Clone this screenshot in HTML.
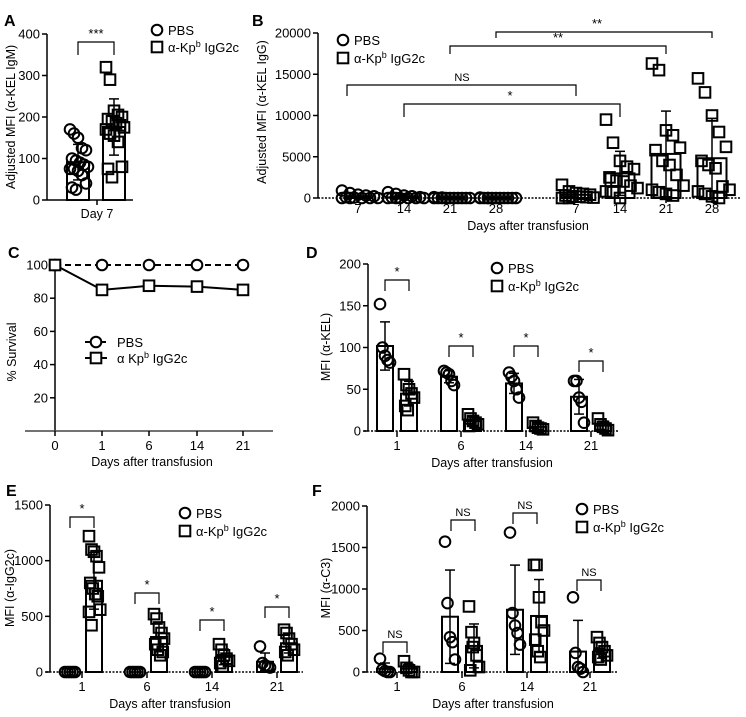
<!DOCTYPE html>
<html><head><meta charset="utf-8">
<style>
html,body{margin:0;padding:0;background:#fff;}
svg{display:block;font-family:"Liberation Sans",Arial,sans-serif;}
</style></head>
<body>
<svg id="fig" width="746" height="717" viewBox="0 0 746 717"></svg>
<script>
// ---------- DATA ----------
const aCats = ["Day 7"];
const aPBS = [170,160,150,125,120,100,95,90,85,80,75,75,70,60,40,30,25];
const aKp = [320,290,215,205,200,195,190,185,180,175,170,160,155,140,80,75,55];
const aTicks = [0,100,200,300,400];

const bCats = ["7","14","21","28","7","14","21","28"];
const bPBS7 = [900,600,400,300,200,100,50,0,0,0,0,0];
const bPBS14 = [700,500,300,200,100,50,0,0,0,0,0,0];
const bPBS21 = [100,50,0,0,0,0,0,0,0,0,0,0];
const bPBS28 = [50,0,0,0,0,0,0,0,0,0,0,0];
const bKp7 = [1600,800,600,500,400,300,200,150,100,50,0,0];
const bKp14 = [9500,6700,4500,3800,3500,2500,2100,2000,1500,1200,800,700,0];
const bKp21 = [16300,15500,8200,7600,6100,5800,4500,4000,2800,1500,1000,700,500,300];
const bKp28 = [14500,12800,10000,8000,6200,4500,4000,3600,1400,1000,800,500,200,0];
const bTicks = [0,5000,10000,15000,20000];

const cCats = ["0","1","6","14","21"];
const cPBS = [100,100,100,100,100];
const cKp = [100,85,87.5,87,85];
const cTicks = [20,40,60,80,100];

const dCats = ["1","6","14","21"];
const dPBS = [[152,100,90,85,82],[72,70,68,60,55],[70,65,60,50,40],[60,60,40,35,10]];
const dKp = [[68,55,50,45,40,30,25],[20,15,12,10,8,6],[10,6,4,3,2],[15,8,5,3,1]];
const dTicks = [0,50,100,150,200];

const eCats = ["1","6","14","21"];
const ePBS = [[0,0,0,0,0],[0,0,0,0,0],[0,0,0,0,0],[230,80,60,50,40]];
const eKp = [[1220,1100,1080,1040,940,800,750,700,680,560,540,420],[520,480,400,350,300,250,200,150,180],[250,200,150,120,100,80,50],[380,350,300,250,200,180,150]];
const eTicks = [0,500,1000,1500];

const fCats = ["1","6","14","21"];
const fPBS = [[160,30,10,0,0],[1570,830,420,360,150],[1680,710,560,470,330],[900,230,60,40,0]];
const fKp = [[130,50,20,0,0],[790,480,350,200,60,20,300],[1290,1290,900,600,500,390,250,180],[420,350,300,250,200,180,150]];
const fTicks = [0,500,1000,1500,2000];

// ---------- HELPERS ----------
const NS = "http://www.w3.org/2000/svg";
const svg = document.getElementById('fig');
function mk(tag, attrs, parent){
  const e = document.createElementNS(NS, tag);
  for (const k in attrs) e.setAttribute(k, attrs[k]);
  (parent || svg).appendChild(e);
  return e;
}
function ln(x1,y1,x2,y2,name,extra){
  const a = Object.assign({x1:x1,y1:y1,x2:x2,y2:y2,stroke:"#000","stroke-width":1.5}, extra||{});
  const el = mk('line', a);
  
  
  return el;
}
function tx(x,y,s,name,extra){
  const a = Object.assign({x:x,y:y,"font-size":13,fill:"#000"}, extra||{});
  const el = mk('text', a);
  el.textContent = s;
  
  
  return el;
}
function mean(v){ return v.reduce((a,b)=>a+b,0)/v.length; }
function sd(v){ const m=mean(v); return Math.sqrt(v.reduce((a,b)=>a+(b-m)*(b-m),0)/(v.length-1)); }
function marker(shape,x,y,name){
  let el;
  if (shape==='c') el = mk('circle',{cx:x,cy:y,r:5.3,fill:"none",stroke:"#000","stroke-width":2});
  else el = mk('rect',{x:x-5.3,y:y-5.3,width:10.6,height:10.6,fill:"none",stroke:"#000","stroke-width":2});
  
  
  return el;
}
function yAxis(ax, ys, ticks, labels, yTopPx, yBotPx, name){
  ln(ax, yTopPx, ax, yBotPx, name+'-y-axis');
  ticks.forEach((t,i)=>{
    ln(ax-5, ys(t), ax, ys(t), name+'-y-tick');
    tx(ax-7, ys(t)+4.5, labels[i], name+'-y-tick-label', {"text-anchor":"end"});
  });
}
function ytitle(x,y,s,name){
  return tx(x,y,s,name,{"font-size":12.5,"text-anchor":"middle",transform:"rotate(-90 "+x+" "+y+")"});
}
function barGroup(shape, cx, w, vals, ys, name, spread){
  const m = mean(vals), s = sd(vals);
  const r = mk('rect',{x:cx-w/2,y:ys(m),width:w,height:ys(0)-ys(m),fill:"#fff",stroke:"#000","stroke-width":2});
  
  
  vals.forEach((v,k)=>{
    const off = ((k%5)-2)*spread/2 + ((Math.floor(k/5)%2)?spread/4:0);
    marker(shape, cx+off, ys(v), name+'-point');
  });
  ln(cx, ys(m+s), cx, ys(Math.max(0,m-s)), name+'-error-bar');
  ln(cx-5, ys(m+s), cx+5, ys(m+s), name+'-error-cap');
  if (m-s>0) ln(cx-5, ys(m-s), cx+5, ys(m-s), name+'-error-cap-low');
}
function bracket(x1,x2,y,leg,label,name,lx){
  const p = mk('path',{d:"M"+x1+" "+(y+leg)+" V"+y+" H"+x2+" V"+(y+leg),fill:"none",stroke:"#000","stroke-width":1.2});
  
  
  tx(lx!==undefined?lx:(x1+x2)/2, y-4, label, name+'-label', {"text-anchor":"middle","font-size":label==='NS'?11:13});
}
function legend(x,y,gap,name){
  marker('c', x, y, name+'-legend-pbs-marker');
  tx(x+11, y+5, "PBS", name+'-legend-pbs', {"font-size":13});
  marker('s', x, y+gap, name+'-legend-kp-marker');
  const t = tx(x+11, y+gap+5, "α-Kp", name+'-legend-kp', {"font-size":13});
  const sup = mk('tspan',{dy:-5,"font-size":9}, t); sup.textContent='b';
  const rest = mk('tspan',{dy:5}, t); rest.textContent=' IgG2c';
}
function letter(x,y,s){ tx(x,y,s,'panel-label-'+s,{"font-size":16,"font-weight":"bold"}); }

// ---------- PANEL A ----------
(function(){
  const ax=47, y0=200, yT=34;
  const ys = v => y0 - (v/400)*(y0-yT);
  letter(4,26,'A');
  yAxis(ax, ys, aTicks, aTicks.map(String), yT, y0, 'a');
  ln(ax, y0, 133, y0, 'a-x-axis');
  ln(97, y0, 97, y0+5, 'a-x-tick');
  tx(97, 218, aCats[0], 'a-x-label', {"text-anchor":"middle","font-size":12.5});
  ytitle(15, 117, "Adjusted MFI (α-KEL IgM)", 'a-y-title');
  barGroup('c', 78, 22, aPBS, ys, 'a-pbs', 8);
  barGroup('s', 114, 22, aKp, ys, 'a-kp', 8);
  bracket(78,114,42,13,"***",'a-sig');
  legend(157,30,17,'a');
})();

// ---------- PANEL B ----------
(function(){
  const ax=318, y0=198, yT=33;
  const ys = v => y0 - (v/20000)*(y0-yT);
  const xB = i => 358 + i*46 + (i>=4?34:0) - (i>=5?2:0);
  letter(252,26,'B');
  yAxis(ax, ys, bTicks, bTicks.map(String), yT, y0, 'b');
  ln(ax, y0, 740, y0, 'b-x-axis', {"stroke-dasharray":"2,1.5"});
  bCats.forEach((c,i)=>{
    ln(xB(i), y0, xB(i), y0+5, 'b-x-tick');
    tx(xB(i), 213, c, 'b-x-label', {"text-anchor":"middle"});
  });
  tx(528, 230, "Days after transfusion", 'b-x-title', {"text-anchor":"middle","font-size":12.5});
  ytitle(266, 112, "Adjusted MFI (α-KEL IgG)", 'b-y-title');
  [bPBS7,bPBS14,bPBS21,bPBS28].forEach((v,i)=>barGroup('c', xB(i), 26, v, ys, 'b-pbs-'+bCats[i], 16));
  [bKp7,bKp14,bKp21,bKp28].forEach((v,i)=>barGroup('s', xB(i+4), 29, v, ys, 'b-kp-'+bCats[i], 14));
  bracket(347,576,85,11,"NS",'b-sig-ns', 462);
  bracket(404,620,104,13,"*",'b-sig-14', 510);
  bracket(450,666,46,8,"**",'b-sig-21', 558);
  bracket(496,712,32,6,"**",'b-sig-28', 597);
  legend(343,40,18,'b');
})();

// ---------- PANEL C ----------
(function(){
  const ax=55, y0=431, yT=265;
  const ys = v => y0 - (v/100)*(y0-yT);
  const xs = i => [55,102,149,197,243][i];
  letter(8,258,'C');
  ln(ax, yT, ax, y0, 'c-y-axis');
  cTicks.forEach(t=>{ ln(ax-5, ys(t), ax, ys(t), 'c-y-tick'); tx(ax-7, ys(t)+4.5, String(t), 'c-y-tick-label', {"text-anchor":"end"}); });
  ln(25, y0, 273, y0, 'c-x-axis', {stroke:"#444"});
  cCats.forEach((c,i)=>{ ln(xs(i), y0, xs(i), y0+5, 'c-x-tick'); tx(xs(i), 450, c, 'c-x-label', {"text-anchor":"middle"}); });
  tx(152, 466, "Days after transfusion", 'c-x-title', {"text-anchor":"middle","font-size":12.5});
  ytitle(16, 352, "% Survival", 'c-y-title');
  const pp = mk('polyline',{points:cPBS.map((v,i)=>xs(i)+","+ys(v)).join(" "),fill:"none",stroke:"#000","stroke-width":2,"stroke-dasharray":"6,4"});
  
  
  const kp = mk('polyline',{points:cKp.map((v,i)=>xs(i)+","+ys(v)).join(" "),fill:"none",stroke:"#000","stroke-width":2});
  
  
  cPBS.forEach((v,i)=>{ const m=marker('c', xs(i), ys(v), 'c-pbs-point'); m.setAttribute('fill','#fff'); });
  cKp.forEach((v,i)=>{ const m=marker('s', xs(i), ys(v), 'c-kp-point'); m.setAttribute('fill','#fff'); });
  ln(85,342,107,342,'c-legend-pbs-line',{"stroke-dasharray":"5,3","stroke-width":2});
  marker('c',96,342,'c-legend-pbs-marker').setAttribute('fill','#fff');
  tx(117,347,"PBS",'c-legend-pbs');
  ln(85,358,107,358,'c-legend-kp-line',{"stroke-width":2});
  marker('s',96,358,'c-legend-kp-marker').setAttribute('fill','#fff');
  const t = tx(117,363,"α Kp",'c-legend-kp');
  const sup = mk('tspan',{dy:-5,"font-size":9},t); sup.textContent='b';
  const rest = mk('tspan',{dy:5},t); rest.textContent=' IgG2c';
})();

// ---------- grouped bar panels D/E/F ----------
function groupedPanel(o){
  const ys = v => o.y0 - (v/o.max)*(o.y0-o.yT);
  letter(o.lx, o.ly, o.letter);
  yAxis(o.ax, ys, o.ticks, o.ticks.map(String), o.yT, o.y0, o.n);
  ln(o.ax-4, o.y0, o.xEnd, o.y0, o.n+'-x-axis', {"stroke-dasharray":"2,1.5"});
  o.cats.forEach((c,i)=>{
    const x = o.tx[i];
    ln(x, o.y0, x, o.y0+6, o.n+'-x-tick');
    tx(x, o.y0+19, c, o.n+'-x-label', {"text-anchor":"middle"});
    barGroup('c', x-12, 16, o.pbs[i], ys, o.n+'-pbs-'+c, 5);
    barGroup('s', x+12, 16, o.kp[i], ys, o.n+'-kp-'+c, 5);
    const b = o.br[i];
    bracket(x-12+b[1], x+12+b[1], b[0], 11, o.sig[i], o.n+'-sig-'+c);
  });
  tx(o.titleX, o.y0+36, "Days after transfusion", o.n+'-x-title', {"text-anchor":"middle","font-size":12.5});
  ytitle(o.ytx, o.yty, o.ytitle, o.n+'-y-title');
  legend(o.legX, o.legY, 18, o.n);
}
groupedPanel({n:'d',letter:'D',lx:306,ly:258,ax:368,y0:431,yT:264,max:200,ticks:dTicks,xEnd:618,
  cats:dCats,tx:[397,461,526,591],pbs:dPBS,kp:dKp,
  br:[[280,0],[346,0],[346,0],[361,0]],sig:["*","*","*","*"],
  titleX:492,ytx:330,yty:347,ytitle:"MFI (α-KEL)",legX:497,legY:268});
groupedPanel({n:'e',letter:'E',lx:6,ly:496,ax:50,y0:672,yT:505,max:1500,ticks:eTicks,xEnd:303,
  cats:eCats,tx:[82,147,212,277],pbs:ePBS,kp:eKp,
  br:[[517,0],[593,0],[620,0],[607,0]],sig:["*","*","*","*"],
  titleX:170,ytx:14,yty:588,ytitle:"MFI (α-IgG2c)",legX:185,legY:513});
groupedPanel({n:'f',letter:'F',lx:312,ly:496,ax:367,y0:672,yT:506,max:2000,ticks:fTicks,xEnd:618,
  cats:fCats,tx:[397,462,527,590],pbs:fPBS,kp:fKp,
  br:[[642,-2],[520,1],[513,-2],[580,-1]],sig:["NS","NS","NS","NS"],
  titleX:493,ytx:330,yty:588,ytitle:"MFI (α-C3)",legX:582,legY:509});
</script>
</body></html>
